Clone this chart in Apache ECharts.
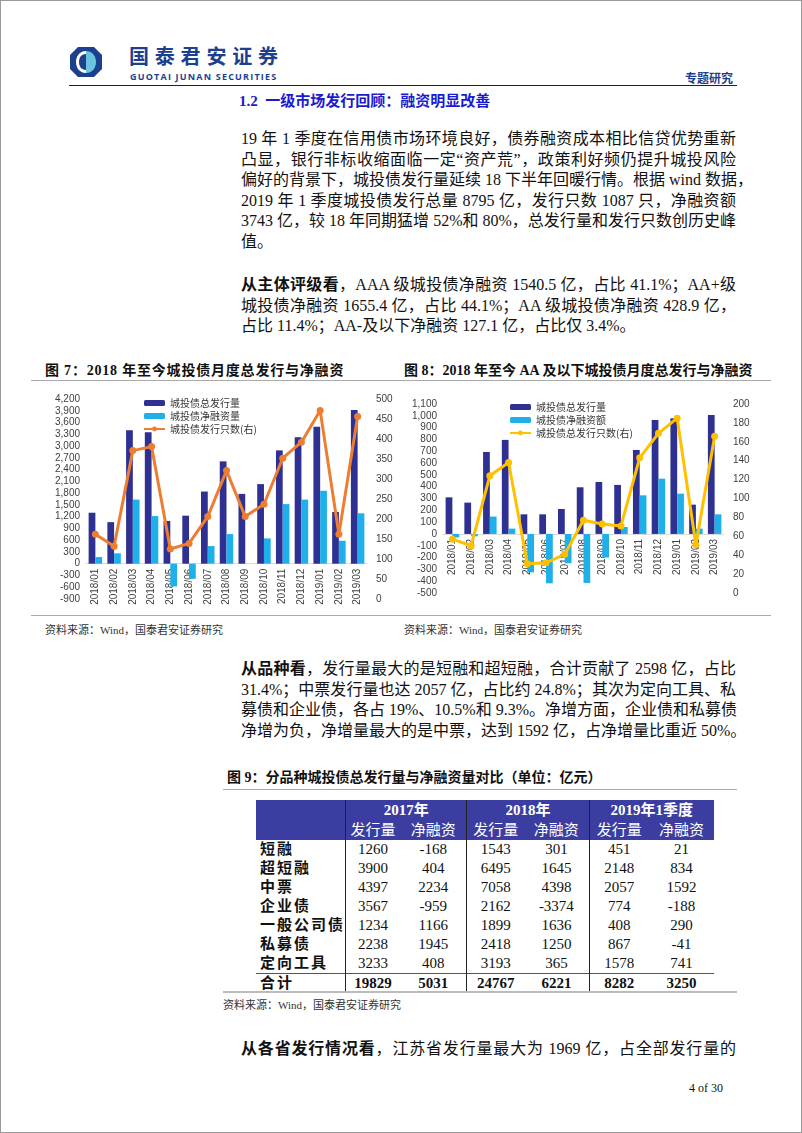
<!DOCTYPE html>
<html>
<head>
<meta charset="utf-8">
<title>专题研究</title>
<script src="https://cdn.jsdelivr.net/npm/echarts@6/dist/echarts.min.js"></script>
<style>
    html, body {
        margin: 0;
        padding: 0;
        background: #fff;
    }
    body {
        position: relative;
        width: 802px;
        height: 1133px;
        box-sizing: border-box;
        border: 1px solid #9a9a9a;
        overflow: hidden;
        font-family: "Liberation Serif", "Noto Sans CJK SC", serif;
        color: #111;
    }
    .abs { position: absolute; }
    .para { position: absolute; left: 240px; width: 495px; font-size: 16px; }
    .para div { height: 20.5px; line-height: 20.5px; text-align: justify; text-align-last: justify; white-space: nowrap; }
    .para div.last { text-align-last: left; }
    .fig-title { font-size: 14px; font-weight: bold; white-space: nowrap; }
    .source { font-size: 11px; color: #333; white-space: nowrap; }
    .hr { position: absolute; height: 0; }
    table.t9 { border-collapse: collapse; font-size: 15px; }
    table.t9 td { padding: 0; height: 19px; line-height: 19px; text-align: center; white-space: nowrap; }
    table.t9 tr.head td { background: #3b3ea0; color: #fff; height: 20px; line-height: 20px; }
    table.t9 tr.head1 td { font-weight: bold; }
    table.t9 td.lab { text-align: left; padding-left: 4px; letter-spacing: 2px; font-weight: bold; }
    table.t9 td.sep { border-left: 1px solid #222; }
    table.t9 tr.sum td { font-weight: bold; border-top: 1px solid #555; }
</style>
</head>
<body>

<!-- 页眉 -->
<svg class="abs" style="left:68px;top:45px" width="34" height="32" viewBox="0 0 34 32">
    <polygon points="9,1 25,1 33,9 33,23 25,31 9,31 1,23 1,9" fill="#1c3f8e"/>
    <path d="M17,5 C10,5 7,11 7,16 C7,21 10,27 17,27 Z" fill="#ffffff"/>
    <path d="M17,5 C24,5 27,11 27,16 C27,21 24,27 17,27 Z" fill="#6cc3e0"/>
    <path d="M17,8 C12,8 10,12 10,16 C10,20 12,24 17,24 Z" fill="#1c3f8e"/>
</svg>
<div class="abs" style="left:128px;top:45px;font-family:'Noto Sans CJK SC';font-weight:bold;font-size:20px;line-height:20px;color:#1c3f8e;letter-spacing:5.8px">国泰君安证券</div>
<div class="abs" style="left:129px;top:71px;font-family:'Open Sans','Liberation Sans';font-weight:bold;font-size:9px;line-height:9px;color:#1c3f8e;letter-spacing:1.2px">GUOTAI JUNAN SECURITIES</div>
<div class="abs" style="left:684px;top:68px;font-size:12px;font-weight:bold;color:#1c3f8e">专题研究</div>
<div class="hr" style="left:68px;top:84px;width:668px;border-top:1.5px solid #222"></div>
<div class="abs" style="left:238px;top:88px;font-size:15px;font-weight:bold;color:#1a1ad0">1.2&nbsp; 一级市场发行回顾：融资明显改善</div>

<div class="para" style="top:128px">
    <div>19 年 1 季度在信用债市场环境良好，债券融资成本相比信贷优势重新</div>
    <div>凸显，银行非标收缩面临一定“资产荒”，政策利好频仍提升城投风险</div>
    <div>偏好的背景下，城投债发行量延续 18 下半年回暖行情。根据 wind 数据，</div>
    <div>2019 年 1 季度城投债发行总量 8795 亿，发行只数 1087 只，净融资额</div>
    <div>3743 亿，较 18 年同期猛增 52%和 80%，总发行量和发行只数创历史峰</div>
    <div class="last">值。</div>
</div>

<div class="para" style="top:274px">
    <div><b>从主体评级看</b>，AAA 级城投债净融资 1540.5 亿，占比 41.1%；AA+级</div>
    <div>城投债净融资 1655.4 亿，占比 44.1%；AA 级城投债净融资 428.9 亿，</div>
    <div class="last">占比 11.4%；AA-及以下净融资 127.1 亿，占比仅 3.4%。</div>
</div>

<!-- 图7 / 图8 -->
<div class="abs fig-title" style="left:44px;top:358px;letter-spacing:0.8px">图 7：2018 年至今城投债月度总发行与净融资</div>
<div class="abs fig-title" style="left:403px;top:358px">图 8：2018 年至今 AA 及以下城投债月度总发行与净融资</div>
<div class="hr" style="left:30px;top:379px;width:740px;border-top:1px solid #aaa"></div>
<div id="chart7" class="abs" style="left:30px;top:385px;width:370px;height:228px"></div>
<div id="chart8" class="abs" style="left:400px;top:385px;width:380px;height:228px"></div>
<div class="hr" style="left:30px;top:614px;width:740px;border-top:1px solid #aaa"></div>
<div class="abs source" style="left:44px;top:620px">资料来源：Wind，国泰君安证券研究</div>
<div class="abs source" style="left:403px;top:620px">资料来源：Wind，国泰君安证券研究</div>

<div class="para" style="top:658px">
    <div><b>从品种看</b>，发行量最大的是短融和超短融，合计贡献了 2598 亿，占比</div>
    <div>31.4%；中票发行量也达 2057 亿，占比约 24.8%；其次为定向工具、私</div>
    <div>募债和企业债，各占 19%、10.5%和 9.3%。净增方面，企业债和私募债</div>
    <div class="last">净增为负，净增量最大的是中票，达到 1592 亿，占净增量比重近 50%。</div>
</div>

<!-- 图9 表格 -->
<div class="abs fig-title" style="left:226px;top:765px">图 9：分品种城投债总发行量与净融资量对比（单位：亿元）</div>
<div class="hr" style="left:222px;top:788px;width:514px;border-top:1px solid #aaa"></div>
<table id="t9" class="t9 abs" style="left:255px;top:799px;width:458px"></table>
<div class="hr" style="left:222px;top:990px;width:514px;border-top:2px solid #bbb"></div>
<div class="abs source" style="left:222px;top:995px">资料来源：Wind，国泰君安证券研究</div>

<div class="para" style="top:1038px">
    <div><b>从各省发行情况看</b>，江苏省发行量最大为 1969 亿，占全部发行量的</div>
</div>

<div class="abs" style="left:688px;top:1080px;font-size:12px">4 of 30</div>

<script>
    // 月份
    var months = ['2018/01', '2018/02', '2018/03', '2018/04', '2018/05', '2018/06', '2018/07', '2018/08',
        '2018/09', '2018/10', '2018/11', '2018/12', '2019/01', '2019/02', '2019/03'];

    // 图7 全部城投债
    var issue7 = [1300, 1060, 3400, 3350, 1090, 1225, 1840, 2610, 1780, 2030, 2890, 3225, 3490, 1320, 3920];
    var net7 = [170, 265, 1635, 1215, -580, -385, 450, 755, 0, 645, 1520, 1635, 1860, 585, 1285];
    var count7 = [162, 132, 371, 381, 125, 139, 206, 321, 206, 237, 352, 392, 471, 162, 456];

    // 图8 AA及以下
    var issue8 = [310, 265, 694, 796, 166, 166, 211, 395, 440, 415, 711, 965, 979, 248, 1007];
    var net8 = [-30, -20, 147, 45, -325, -418, -248, -415, -200, 59, 327, 468, 341, 45, 166];
    var count8 = [57, 50, 124, 138, 31, 32, 41, 77, 73, 71, 143, 169, 185, 51, 166];

    // 图9 表格
    var years = ['2017年', '2018年', '2019年1季度'];
    var kinds = ['短融', '超短融', '中票', '企业债', '一般公司债', '私募债', '定向工具', '合计'];
    var iss2017 = [1260, 3900, 4397, 3567, 1234, 2238, 3233, 19829];
    var net2017 = [-168, 404, 2234, -959, 1166, 1945, 408, 5031];
    var iss2018 = [1543, 6495, 7058, 2162, 1899, 2418, 3193, 24767];
    var net2018 = [301, 1645, 4398, -3374, 1636, 1250, 365, 6221];
    var iss2019 = [451, 2148, 2057, 774, 408, 867, 1578, 8282];
    var net2019 = [21, 834, 1592, -188, 290, -41, 741, 3250];

    var DARK = '#2e3192', LIGHT = '#1fb0ea';
    var fmt = function (v) { return v.toLocaleString('en-US'); };

    function makeOption(cfg) {
        var axisLabel = {fontSize: 10, color: '#404040', fontFamily: 'Liberation Sans'};
        return {
            animation: false,
            textStyle: {fontFamily: 'Liberation Sans'},
            legend: {
                orient: 'vertical',
                left: cfg.legendLeft,
                top: cfg.legendTop,
                itemWidth: 21,
                itemHeight: 6,
                itemGap: 3,
                textStyle: {fontSize: 10, color: '#333', fontFamily: 'Noto Sans CJK SC'},
                data: [cfg.names[0], cfg.names[1], cfg.names[2]]
            },
            grid: Object.assign({containLabel: false, outerBoundsMode: 'none'}, cfg.grid),
            xAxis: {
                type: 'category',
                data: months,
                axisLine: {onZero: false, lineStyle: {color: '#d9d9d9'}},
                axisTick: {show: false},
                axisLabel: {rotate: 90, fontSize: 10, color: '#404040', margin: 5, interval: 0}
            },
            yAxis: [{
                type: 'value', min: cfg.lmin, max: cfg.lmax, interval: cfg.lint,
                splitLine: {show: false}, axisLine: {show: false}, axisTick: {show: false},
                axisLabel: Object.assign({formatter: fmt, margin: 6}, axisLabel)
            }, {
                type: 'value', min: 0, max: cfg.rmax, interval: cfg.rint,
                splitLine: {show: false}, axisLine: {show: false}, axisTick: {show: false},
                axisLabel: Object.assign({margin: 9}, axisLabel)
            }],
            series: [{
                name: cfg.names[0], type: 'bar', data: cfg.issue, itemStyle: {color: DARK},
                barGap: '0%', barCategoryGap: '28%'
            }, {
                name: cfg.names[1], type: 'bar', data: cfg.net, itemStyle: {color: LIGHT}
            }, {
                name: cfg.names[2], type: 'line', yAxisIndex: 1, data: cfg.count,
                symbol: 'circle', symbolSize: 7, z: 5,
                lineStyle: {color: cfg.lineColor, width: 3},
                itemStyle: {color: cfg.lineColor}
            }]
        };
    }

    // 类目轴放到左轴的 0 位置
    function drawChart(id, cfg) {
        var chart = echarts.init(document.getElementById(id));
        chart.setOption(makeOption(cfg));
        var yZero = chart.convertToPixel({yAxisIndex: 0}, 0);
        var yMin = chart.convertToPixel({yAxisIndex: 0}, cfg.lmin);
        chart.setOption({xAxis: {offset: -(yMin - yZero)}});
        return chart;
    }

    drawChart('chart7', {
        names: ['城投债总发行量', '城投债净融资量', '城投债发行只数(右)'],
        issue: issue7, net: net7, count: count7,
        lmin: -900, lmax: 4200, lint: 300, rmax: 500, rint: 50,
        grid: {left: 55, right: 34, top: 13, bottom: 15},
        legendLeft: 107, legendTop: 7,
        lineColor: '#ed7d31'
    });

    drawChart('chart8', {
        names: ['城投债总发行量', '城投债净融资额', '城投债总发行只数(右)'],
        issue: issue8, net: net8, count: count8,
        lmin: -500, lmax: 1100, lint: 100, rmax: 200, rint: 20,
        grid: {left: 42, right: 57, top: 18, bottom: 21},
        legendLeft: 103, legendTop: 11,
        lineColor: '#ffc000'
    });

    // 表格
    var tbl = document.getElementById('t9');
    var html = '<colgroup><col style="width:75px"><col style="width:56px"><col style="width:70px">'
        + '<col style="width:59px"><col style="width:68px"><col style="width:62px"><col style="width:68px"></colgroup>';
    html += '<tr class="head head1"><td></td>';
    years.forEach(function (y) { html += '<td colspan="2" class="sep">' + y + '</td>'; });
    html += '</tr><tr class="head"><td></td>';
    years.forEach(function () { html += '<td class="sep">发行量</td><td>净融资</td>'; });
    html += '</tr>';
    kinds.forEach(function (k, i) {
        html += '<tr' + (i === kinds.length - 1 ? ' class="sum"' : '') + '><td class="lab">' + k + '</td>'
            + '<td class="sep">' + iss2017[i] + '</td><td>' + net2017[i] + '</td>'
            + '<td class="sep">' + iss2018[i] + '</td><td>' + net2018[i] + '</td>'
            + '<td class="sep">' + iss2019[i] + '</td><td>' + net2019[i] + '</td></tr>';
    });
    tbl.innerHTML = html;
</script>
</body>
</html>
